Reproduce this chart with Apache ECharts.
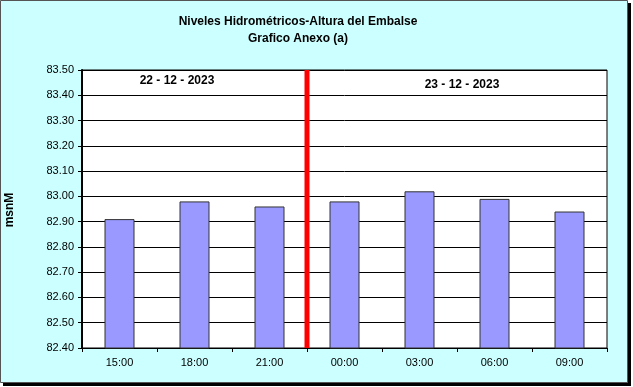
<!DOCTYPE html>
<html>
<head>
<meta charset="utf-8">
<script src="https://cdn.jsdelivr.net/npm/echarts@6/dist/echarts.min.js"></script>
<style>
html,body{margin:0;padding:0;background:#ffffff;}
#chart{width:633px;height:387px;}
</style>
</head>
<body>
<div id="chart"></div>
<script>
var categories = ['15:00','18:00','21:00','00:00','03:00','06:00','09:00'];
var levels = [82.91, 82.98, 82.96, 82.98, 83.02, 82.99, 82.94];
var yMin = 82.40, yMax = 83.50, yStep = 0.10;
var dividerPos = 3; // boundary between 21:00 and 00:00
var dateLabels = ['22 - 12 - 2023', '23 - 12 - 2023'];
var titleLines = ['Niveles Hidrométricos-Altura del Embalse', 'Grafico Anexo (a)'];
var yAxisName = 'msnM';

var FONT = '"Liberation Sans", Arial, sans-serif';
var chart = echarts.init(document.getElementById('chart'), null, {renderer:'canvas'});

var option = {
  animation: false,
  backgroundColor: 'transparent',
  graphic: [
    {type:'rect', z:-10, shape:{x:3, y:3, width:628, height:383}, style:{fill:'#000'}},
    {type:'rect', z:-9, shape:{x:0.5, y:0.5, width:627, height:382}, style:{fill:'#CCFFFF', stroke:'#555', lineWidth:1}},
    {type:'text', z:10, x:298, y:16, style:{text:titleLines[0], font:'bold 12px '+FONT, fill:'#000', align:'center', verticalAlign:'top'}},
    {type:'text', z:10, x:298, y:33, style:{text:titleLines[1], font:'bold 12px '+FONT, fill:'#000', align:'center', verticalAlign:'top'}},
    {type:'text', z:10, x:177, y:81, style:{text:dateLabels[0], font:'bold 12px '+FONT, fill:'#000', align:'center', verticalAlign:'middle'}},
    {type:'text', z:10, x:462, y:85, style:{text:dateLabels[1], font:'bold 12px '+FONT, fill:'#000', align:'center', verticalAlign:'middle'}},
    {type:'text', z:10, x:10, y:210, rotation:Math.PI/2, style:{text:yAxisName, font:'bold 12px '+FONT, fill:'#000', align:'center', verticalAlign:'middle'}}
  ],
  grid: {left:82, right:26, top:70, bottom:39, show:true, backgroundColor:'#fff', borderColor:'#000', borderWidth:1},
  xAxis: [
    {
      type:'category', data:categories, boundaryGap:true,
      axisLine:{show:true, lineStyle:{color:'#000', width:1}},
      axisTick:{show:true, alignWithLabel:false, length:4, inside:false, lineStyle:{color:'#000'}},
      axisLabel:{color:'#000', fontFamily:FONT, fontSize:11, margin:9},
      splitLine:{show:false}
    },
    {
      type:'value', min:0, max:categories.length, show:false
    }
  ],
  yAxis: {
    type:'value', min:yMin, max:yMax, interval:yStep,
    axisLine:{show:true, lineStyle:{color:'#000', width:2}},
    axisTick:{show:true, length:4, lineStyle:{color:'#000'}},
    axisLabel:{color:'#000', fontFamily:FONT, fontSize:11, margin:8, formatter:function(v){return v.toFixed(2);}},
    splitLine:{show:true, lineStyle:{color:'#000', width:1}}
  },
  series: [
    {
      type:'bar', data:levels, barWidth:'40%', xAxisIndex:0,
      itemStyle:{color:'#9999FF', borderColor:'#333', borderWidth:1}
    },
    {
      type:'line', xAxisIndex:1, data:[[dividerPos, yMin],[dividerPos, yMax]],
      symbol:'none', lineStyle:{color:'#FF0000', width:5}, z:5
    }
  ]
};
chart.setOption(option);
</script>
</body>
</html>
